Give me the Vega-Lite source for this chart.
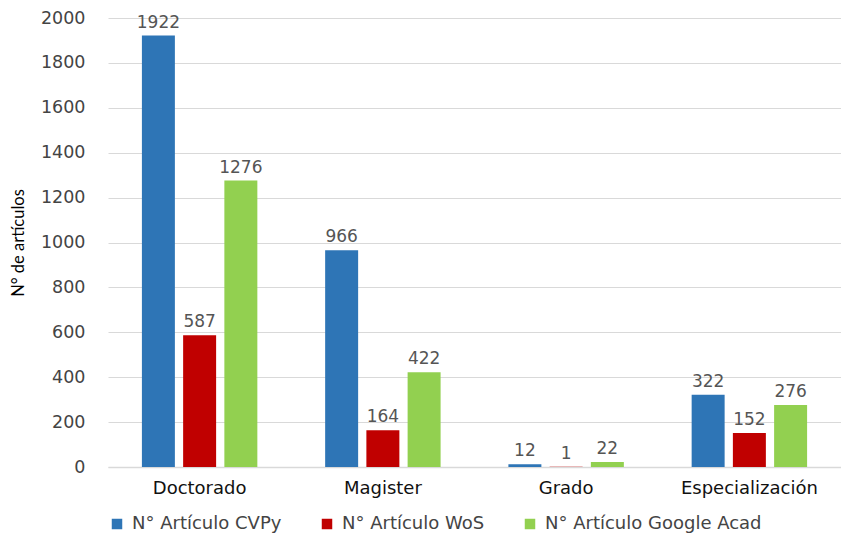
{
  "$schema": "https://vega.github.io/schema/vega-lite/v6.json",
  "width": 841,
  "height": 533,
  "autosize": {"type": "fit", "contains": "padding"},
  "padding": {"left": 10, "top": 9, "right": 0, "bottom": 0},
  "background": "white",
  "config": {
    "view": {"stroke": null},
    "font": "DejaVu Sans"
  },
  "data": {
    "values": [
      {"nivel": "Doctorado", "serie": "N° Artículo CVPy", "valor": 1922},
      {"nivel": "Doctorado", "serie": "N° Artículo WoS", "valor": 587},
      {"nivel": "Doctorado", "serie": "N° Artículo Google Acad", "valor": 1276},
      {"nivel": "Magister", "serie": "N° Artículo CVPy", "valor": 966},
      {"nivel": "Magister", "serie": "N° Artículo WoS", "valor": 164},
      {"nivel": "Magister", "serie": "N° Artículo Google Acad", "valor": 422},
      {"nivel": "Grado", "serie": "N° Artículo CVPy", "valor": 12},
      {"nivel": "Grado", "serie": "N° Artículo WoS", "valor": 1},
      {"nivel": "Grado", "serie": "N° Artículo Google Acad", "valor": 22},
      {"nivel": "Especialización", "serie": "N° Artículo CVPy", "valor": 322},
      {"nivel": "Especialización", "serie": "N° Artículo WoS", "valor": 152},
      {"nivel": "Especialización", "serie": "N° Artículo Google Acad", "valor": 276}
    ]
  },
  "encoding": {
    "x": {
      "field": "nivel",
      "type": "nominal",
      "sort": ["Doctorado", "Magister", "Grado", "Especialización"],
      "scale": {"paddingInner": 0.37, "paddingOuter": 0.185},
      "axis": {
        "title": null,
        "labelAngle": 0,
        "labelFontSize": 18,
        "labelColor": "#111111",
        "labelPadding": 12,
        "ticks": false,
        "domainColor": "#D9D9D9",
        "domainWidth": 1.5
      }
    },
    "xOffset": {
      "field": "serie",
      "type": "nominal",
      "sort": ["N° Artículo CVPy", "N° Artículo WoS", "N° Artículo Google Acad"],
      "scale": {"paddingInner": 0.2}
    },
    "y": {
      "field": "valor",
      "type": "quantitative",
      "scale": {"domain": [0, 2000]},
      "axis": {
        "title": "N° de artículos",
        "titleFont": "Lato",
        "titleFontSize": 16.5,
        "titleFontWeight": "normal",
        "titleColor": "#000000",
        "titlePadding": 14,
        "values": [0, 200, 400, 600, 800, 1000, 1200, 1400, 1600, 1800, 2000],
        "format": "d",
        "labelFontSize": 17.5,
        "labelColor": "#444444",
        "labelPadding": 23,
        "ticks": false,
        "domain": false,
        "gridColor": "#D9D9D9",
        "gridWidth": 1
      }
    }
  },
  "layer": [
    {
      "mark": {"type": "bar"},
      "encoding": {
        "color": {
          "field": "serie",
          "type": "nominal",
          "sort": ["N° Artículo CVPy", "N° Artículo WoS", "N° Artículo Google Acad"],
          "scale": {
            "domain": ["N° Artículo CVPy", "N° Artículo WoS", "N° Artículo Google Acad"],
            "range": ["#2E75B6", "#C00000", "#92D050"]
          },
          "legend": {
            "title": null,
            "orient": "bottom",
            "direction": "horizontal",
            "symbolType": "square",
            "symbolSize": 110,
            "symbolStrokeWidth": 0,
            "labelFontSize": 18,
            "labelColor": "#444444",
            "labelLimit": 400,
            "labelOffset": 6,
            "columnPadding": 36,
            "offset": 18
          }
        }
      }
    },
    {
      "mark": {"type": "text", "dy": -13, "fontSize": 17, "color": "#555555"},
      "encoding": {
        "text": {"field": "valor", "type": "quantitative", "format": "d"}
      }
    }
  ]
}
